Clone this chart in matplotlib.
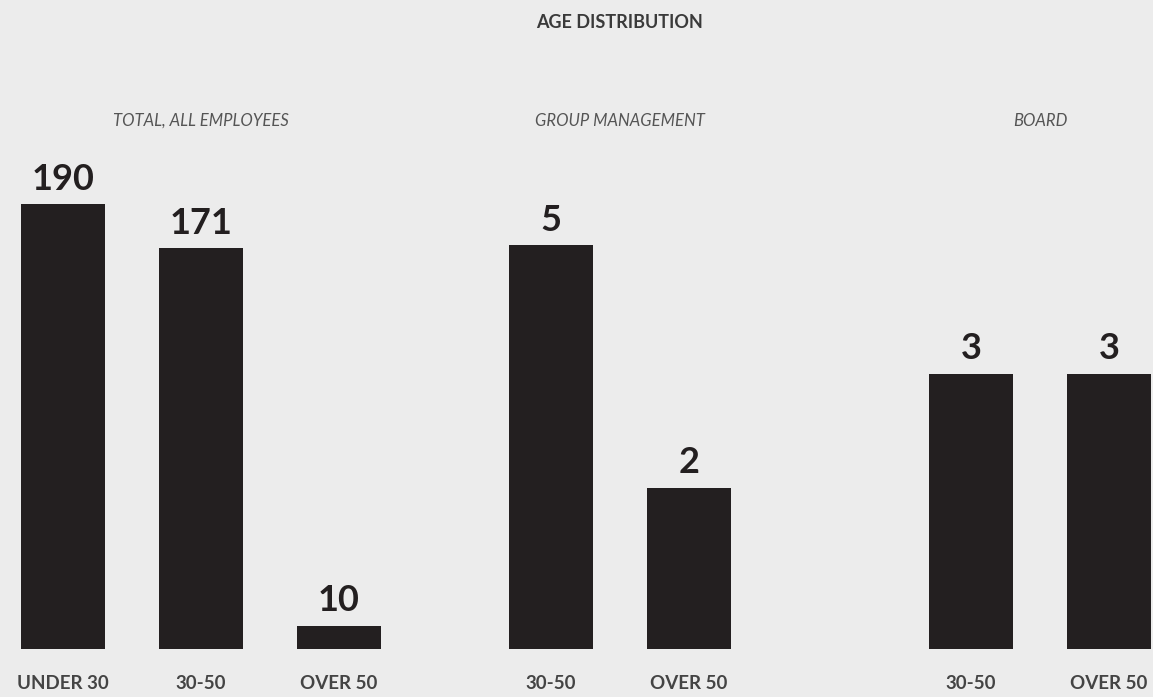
import matplotlib
matplotlib.use("Agg")
import matplotlib.pyplot as plt

# data
total_cats = ["UNDER 30", "30-50", "OVER 50"]
total_vals = [190, 171, 10]
mgmt_cats = ["30-50", "OVER 50"]
mgmt_vals = [5, 2]
board_cats = ["30-50", "OVER 50"]
board_vals = [3, 3]

panels = [
    ("TOTAL, ALL EMPLOYEES", total_cats, total_vals, 213.0, 63),
    ("GROUP MANAGEMENT", mgmt_cats, mgmt_vals, 6.18, 551),
    ("BOARD", board_cats, board_vals, 5.44, 971),
]

W, H = 1153, 697
bg = "#ececec"
bar_col = "#231f20"
plt.rcParams['font.family'] = ['Lato', 'DejaVu Sans']

fig = plt.figure(figsize=(W / 100, H / 100), dpi=100, facecolor=bg)
slot = 138.0
base_px = 649
top_px = 150

fig.text(620 / W, 1 - 22 / H, "AGE DISTRIBUTION", ha="center", va="center",
         fontsize=13, fontweight="bold", color="#3a3a3a")

for title, cats, vals, ymax, first_c in panels:
    n = len(cats)
    left = (first_c - slot / 2) / W
    ax = fig.add_axes([left, (H - base_px) / H, n * slot / W, (base_px - top_px) / H])
    ax.set_facecolor("none")
    x = list(range(n))
    ax.bar(x, vals, width=84 / slot, color=bar_col)
    ax.set_xlim(-0.5, n - 0.5)
    ax.set_ylim(0, ymax)
    for xi, v in zip(x, vals):
        ax.annotate(str(v), (xi, v), xytext=(0, 6), textcoords="offset points",
                    ha="center", va="bottom", fontsize=26, fontweight="bold",
                    color=bar_col)
        ax.annotate(cats[xi], (xi, 0), xytext=(0, -25), textcoords="offset points",
                    ha="center", va="center", fontsize=13.5, fontweight="bold",
                    color="#444444")
    ax.axis("off")
    cx = (first_c + (n - 1) * slot / 2) / W
    fig.text(cx, 1 - 121 / H, title, ha="center", va="center", fontsize=12,
             style="italic", color="#555555")

fig.savefig("out.png", dpi=100, facecolor=bg)
